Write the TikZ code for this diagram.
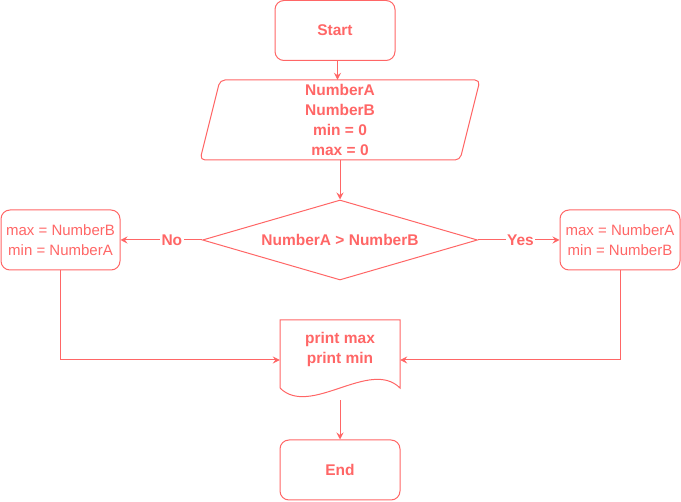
\documentclass[tikz,border=0pt]{standalone}
\usepackage{fontspec}
\setmainfont{Liberation Sans}
\usetikzlibrary{shapes.geometric,arrows.meta,calc}
\definecolor{fc}{HTML}{FF6666}
\begin{document}
\begin{tikzpicture}[x=1pt,y=-1pt,
  txt/.style={text=fc, align=center, inner sep=0pt, font=\fontsize{15}{20}\selectfont},
  btxt/.style={txt, font=\bfseries\fontsize{15.5}{20}\selectfont},
  term/.style={btxt, draw=fc, line width=1pt, rounded corners=9pt, minimum width=120pt, minimum height=60pt},
  procbox/.style={txt, draw=fc, line width=1pt, rounded corners=9pt, minimum width=119pt, minimum height=60pt},
  decision/.style={btxt, draw=fc, line width=1pt, diamond, aspect=3.44, minimum width=275pt, minimum height=80pt},
  holder/.style={inner sep=0pt, minimum width=120pt, minimum height=80pt},
  arr/.style={draw=fc, line width=1pt, -{Stealth[length=7pt,width=7pt,inset=2.5pt]}},
  lbl/.style={btxt, fill=white, inner sep=1.5pt},
  shapeline/.style={draw=fc, line width=1pt}
]
\useasboundingbox (0,0) rectangle (681,502);

% Start
\node[term] (start) at (335,30.5) {Start};

% input parallelogram
\draw[shapeline, rounded corners=5pt] (220,80) -- (480,80) -- (460,160) -- (200,160) -- cycle;
\node[holder, minimum width=240pt] (inp) at (340,120) {};
\node[btxt] (inptext) at (340,120) {NumberA\\NumberB\\min = 0\\max = 0};

% decision
\node[decision] (dec) at (340,240) {NumberA > NumberB};

% side boxes
\node[procbox] (lbox) at (60.5,240) {max = NumberB\\min = NumberA};
\node[procbox, minimum width=120pt] (rbox) at (620,240) {max = NumberA\\min = NumberB};

% document
\draw[shapeline] (280,388) -- (280,320) -- (400,320) -- (400,388)
  .. controls (370,358) and (310,418) .. (280,388);
\node[holder] (doc) at (340,360) {};
\node[btxt] (doctext) at (340,349) {print max\\print min};

% End
\node[term] (end) at (340,470) {End};

% connectors
\draw[arr] ([xshift=2.5pt]start.south) -- ([xshift=-2.5pt]inp.north);
\draw[arr] (inp.south) -- (dec.north);
\draw[arr] (dec.west) -- node[lbl, pos=0.37] (no) {No} (lbox.east);
\draw[arr] (dec.east) -- node[lbl, pos=0.52] (yes) {Yes} (rbox.east -| rbox.west);
\draw[arr] (lbox.south) |- (doc.west);
\draw[arr] (rbox.south) |- (doc.east);
\draw[arr] (doc.south) -- (end.north);
\end{tikzpicture}
\end{document}
